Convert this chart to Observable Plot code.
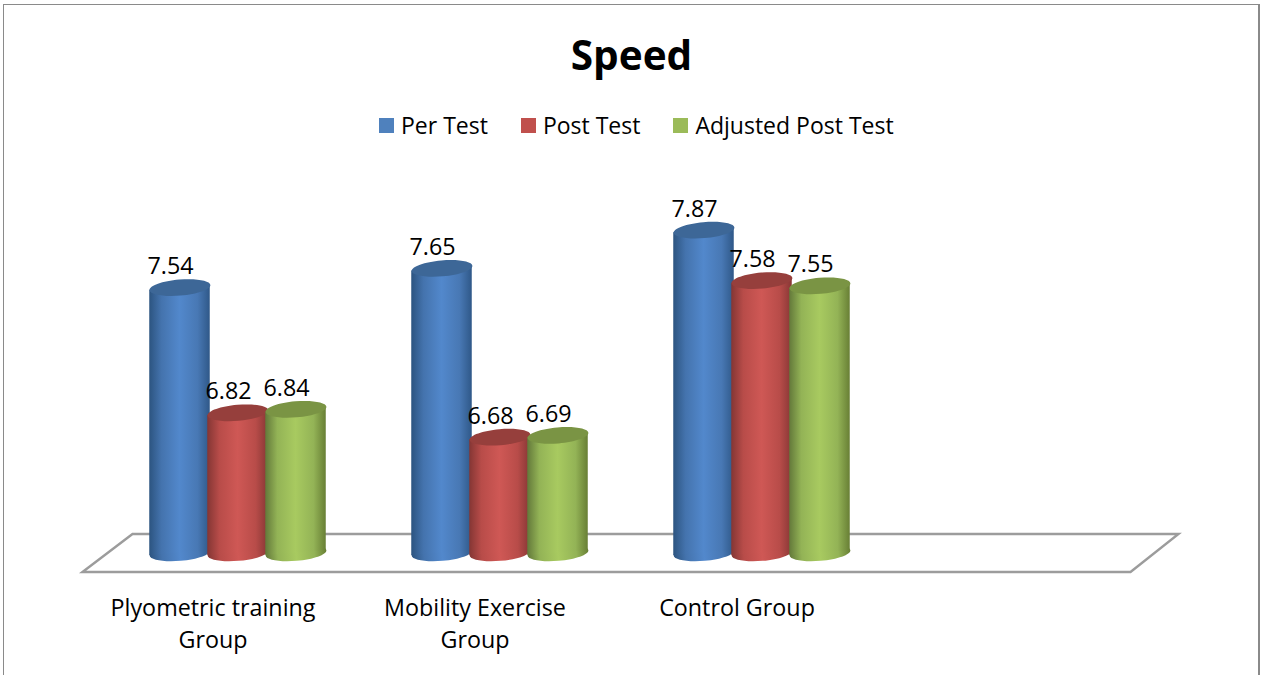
<!DOCTYPE html>
<html>
<head>
<meta charset="utf-8">
<script src="https://cdn.jsdelivr.net/npm/d3@7"></script>
<script src="https://cdn.jsdelivr.net/npm/@observablehq/plot@0.6"></script>
<style>
  html, body { margin: 0; padding: 0; background: #fff; overflow: hidden; }
  #page { position: relative; width: 1261px; height: 675px; overflow: hidden; font-family: "Open Sans", sans-serif; color: #000; }
  #frame { position: absolute; left: 3px; top: 4px; width: 1254px; height: 700px; border: 1px solid #8a8a8a; border-right-width: 2px; box-sizing: content-box; }
  #title { position: absolute; left: 0; width: 1263px; top: 28px; text-align: center; font-size: 40.5px; font-weight: 700; line-height: 54px; }
  #legend { position: absolute; left: 379px; top: 107px; height: 36px; display: flex; align-items: center; font-size: 23px; white-space: nowrap; }
  #legend .sw { width: 15px; height: 15px; margin-right: 7px; }
  #legend .it { display: flex; align-items: center; margin-right: 33px; }
  #chart { position: absolute; left: 0; top: 160px; }
  #chart svg { display: block; }
</style>
</head>
<body>
<div id="page">
  <div id="frame"></div>
  <div id="title">Speed</div>
  <div id="legend"></div>
  <div id="chart"></div>
</div>
<script>
const chartTitle = "Speed";
const groups = ["Plyometric training\nGroup", "Mobility Exercise\nGroup", "Control Group", " "];
const seriesNames = ["Per Test", "Post Test", "Adjusted Post Test"];
const perTest = [7.54, 7.65, 7.87];
const postTest = [6.82, 6.68, 7.58];
const adjustedPostTest = [6.84, 6.69, 7.55];
const seriesValues = [perTest, postTest, adjustedPostTest];
const legendColors = ["#4f81bd", "#c0504d", "#9bbb59"];
const capColors = ["#3d6797", "#963f3c", "#7a9444"];
const gradStops = [
  ["#2c5480", "#4473ad", "#5288cc", "#4878b4", "#2f5888"],
  ["#843634", "#b84c49", "#cf5855", "#b84c49", "#873735"],
  ["#63793a", "#93b356", "#a8ca60", "#93b356", "#687f35"]
];

const rows = seriesNames.flatMap((name, s) =>
  seriesValues[s].map((value, g) => ({group: groups[g], series: name, value, base: 6.015})));

const legend = d3.select("#legend");
seriesNames.forEach((n, i) => {
  const it = legend.append("div").attr("class", "it");
  it.append("div").attr("class", "sw").style("background", legendColors[i]);
  it.append("span").text(n);
});

const ellipse = {
  draw(c) {
    const rx = 30.5, ry = 8, k = 0.5523;
    c.moveTo(-rx, 0);
    c.bezierCurveTo(-rx, -k * ry, -k * rx, -ry, 0, -ry);
    c.bezierCurveTo(k * rx, -ry, rx, -k * ry, rx, 0);
    c.bezierCurveTo(rx, k * ry, k * rx, ry, 0, ry);
    c.bezierCurveTo(-k * rx, ry, -rx, k * ry, -rx, 0);
    c.closePath();
  }
};

const backdrop = Plot.frame({
  facet: "super",
  stroke: "none",
  render(index, scales, values, d) {
    const g = d3.create("svg:g");
    const defs = g.append("defs");
    gradStops.forEach((stops, i) => {
      const lg = defs.append("linearGradient").attr("id", "cyl" + i).attr("x1", 0).attr("x2", 1).attr("y1", 0).attr("y2", 0);
      [0, 0.2, 0.5, 0.8, 1].forEach((o, j) => lg.append("stop").attr("offset", o).attr("stop-color", stops[j]));
    });
    const x0 = d.marginLeft - 23.5, x1 = d.width - d.marginRight - 23.5;
    const yb = d.height - d.marginBottom;
    const back = yb - 21, front = yb + 17;
    g.append("path")
      .attr("d", `M${x0},${front}L${x0 + 50},${back}L${x1 + 48},${back}L${x1},${front}Z`)
      .attr("fill", "none").attr("stroke", "#9c9c9c").attr("stroke-width", 2.4);
    return g.node();
  }
});

const skewBars = (index, scales, values, dimensions, context, next) => {
  const g = next(index, scales, values, dimensions, context);
  d3.select(g).selectAll("rect").each(function () {
    const x = +this.getAttribute("x"), w = +this.getAttribute("width"), cx = x + w / 2;
    this.setAttribute("transform", `translate(${cx},0) skewY(-5) translate(${-cx},0)`);
  });
  return g;
};

const cylinderMarks = seriesNames.flatMap((name, i) => {
  const data = rows.filter(d => d.series === name);
  const grad = `url(#cyl${i})`;
  return [
    Plot.dot(data, {x: "series", fx: "group", y: "base", symbol: ellipse, r: 1, rotate: -5, fill: grad}),
    Plot.barY(data, {x: "series", fx: "group", y1: "base", y2: "value", fill: grad, insetLeft: -1.25, insetRight: -1.25, render: skewBars}),
    Plot.dot(data, {x: "series", fx: "group", y: "value", symbol: ellipse, r: 1, rotate: -5, fill: capColors[i]})
  ];
});

const plot = Plot.plot({
  width: 1261,
  height: 515,
  marginLeft: 105.5,
  marginRight: 107.5,
  marginTop: 47,
  marginBottom: 120,
  style: {fontFamily: '"Open Sans", sans-serif', background: "transparent", overflow: "visible"},
  fx: {domain: groups, padding: 0, label: null},
  x: {domain: seriesNames, paddingInner: 0, paddingOuter: 0.74, axis: null},
  y: {domain: [6, 8], axis: null},
  marks: [
    backdrop,
    ...cylinderMarks,
    Plot.text(rows, {x: "series", fx: "group", y: "value", text: d => d.value.toFixed(2), dx: -9.5, dy: -21, fontSize: 23.3, fill: "#000"}),
    Plot.axisFx({anchor: "bottom", tickSize: 0, tickPadding: 37, dx: -24.5, fontSize: 23.3, lineHeight: 1.4, lineAnchor: "top", label: null, fill: "#000"})
  ]
});
document.getElementById("chart").appendChild(plot);
</script>
</body>
</html>
